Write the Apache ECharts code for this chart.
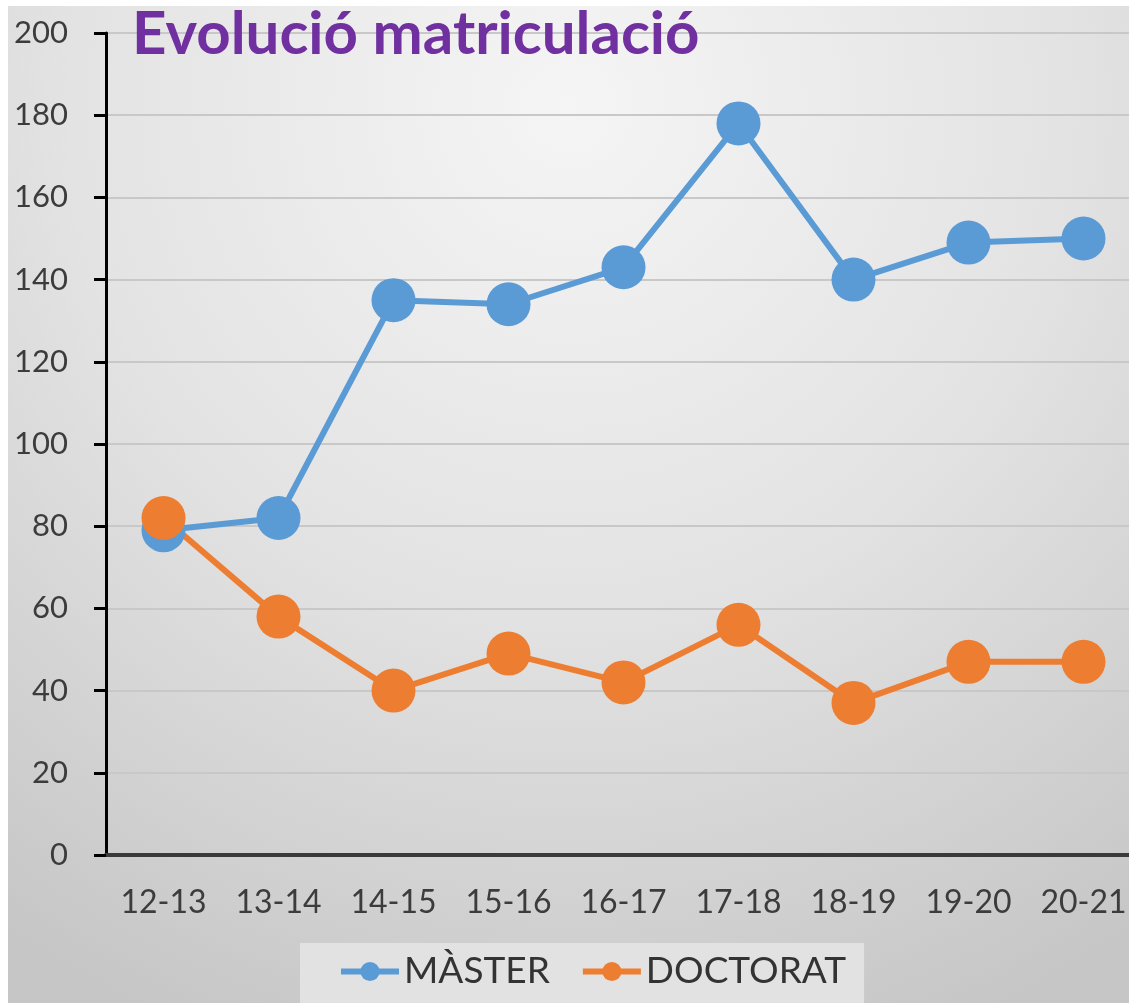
<!DOCTYPE html>
<html>
<head>
<meta charset="utf-8">
<script src="https://cdn.jsdelivr.net/npm/echarts@6/dist/echarts.min.js"></script>
<style>
  html, body { margin: 0; padding: 0; background: #fff; }
  #chart { width: 1129px; height: 1003px; }
</style>
</head>
<body>
<div id="chart"></div>
<script>
  // cursos acadèmics
  var cursos = ['12-13', '13-14', '14-15', '15-16', '16-17', '17-18', '18-19', '19-20', '20-21']
  var master = [79, 82, 135, 134, 143, 178, 140, 149, 150]
  var doctorat = [82, 58, 40, 49, 42, 56, 37, 47, 47]

  var chart = echarts.init(document.getElementById('chart'))
  var font = 'Lato, "Open Sans", sans-serif'

  chart.setOption({
    backgroundColor: '#ffffff',
    graphic: [{
      type: 'rect',
      z: -10,
      silent: true,
      shape: { x: 8, y: 6, width: 1121, height: 997 },
      style: {
        fill: {
          type: 'radial',
          x: 0.5, y: 0.1, r: 1,
          colorStops: [
            { offset: 0, color: '#f5f5f5' },
            { offset: 0.5, color: '#e3e3e3' },
            { offset: 1, color: '#c6c6c6' }
          ]
        }
      }
    }],
    title: {
      text: 'Evolució matriculació',
      left: 127,
      top: 0,
      textStyle: {
        color: '#7030a0',
        fontFamily: font,
        fontWeight: 'bold',
        fontSize: 60
      }
    },
    grid: {
      left: 106,
      top: 33,
      width: 1035,
      bottom: 148,
      outerBoundsMode: 'none',
      containLabel: false
    },
    legend: {
      left: 300,
      top: 943,
      padding: [10, 18, 24, 38],
      backgroundColor: '#e2e2e2',
      itemWidth: 58,
      itemHeight: 24,
      itemGap: 30,
      lineStyle: { width: 6 },
      textStyle: {
        color: '#333',
        fontFamily: font,
        fontSize: 37
      },
      data: ['MÀSTER', 'DOCTORAT']
    },
    xAxis: {
      type: 'category',
      data: cursos,
      boundaryGap: true,
      axisLine: { lineStyle: { color: '#3a3a3a', width: 4 } },
      axisTick: { show: false },
      axisLabel: {
        color: '#3c3c3c',
        fontFamily: font,
        fontSize: 32,
        margin: 32
      }
    },
    yAxis: {
      type: 'value',
      min: 0,
      max: 200,
      interval: 20,
      axisLine: { show: true, lineStyle: { color: '#000', width: 3 } },
      axisTick: { show: true, length: 12, lineStyle: { color: '#000', width: 3 } },
      axisLabel: {
        color: '#3c3c3c',
        fontFamily: font,
        fontSize: 31,
        margin: 38
      },
      splitLine: { lineStyle: { color: '#c8c8c8', width: 2 } }
    },
    series: [
      {
        name: 'MÀSTER',
        type: 'line',
        data: master,
        symbol: 'circle',
        symbolSize: 44,
        lineStyle: { color: '#5b9bd5', width: 6 },
        itemStyle: { color: '#5b9bd5' }
      },
      {
        name: 'DOCTORAT',
        type: 'line',
        data: doctorat,
        symbol: 'circle',
        symbolSize: 44,
        lineStyle: { color: '#ed7d31', width: 6 },
        itemStyle: { color: '#ed7d31' }
      }
    ]
  })
</script>
</body>
</html>
